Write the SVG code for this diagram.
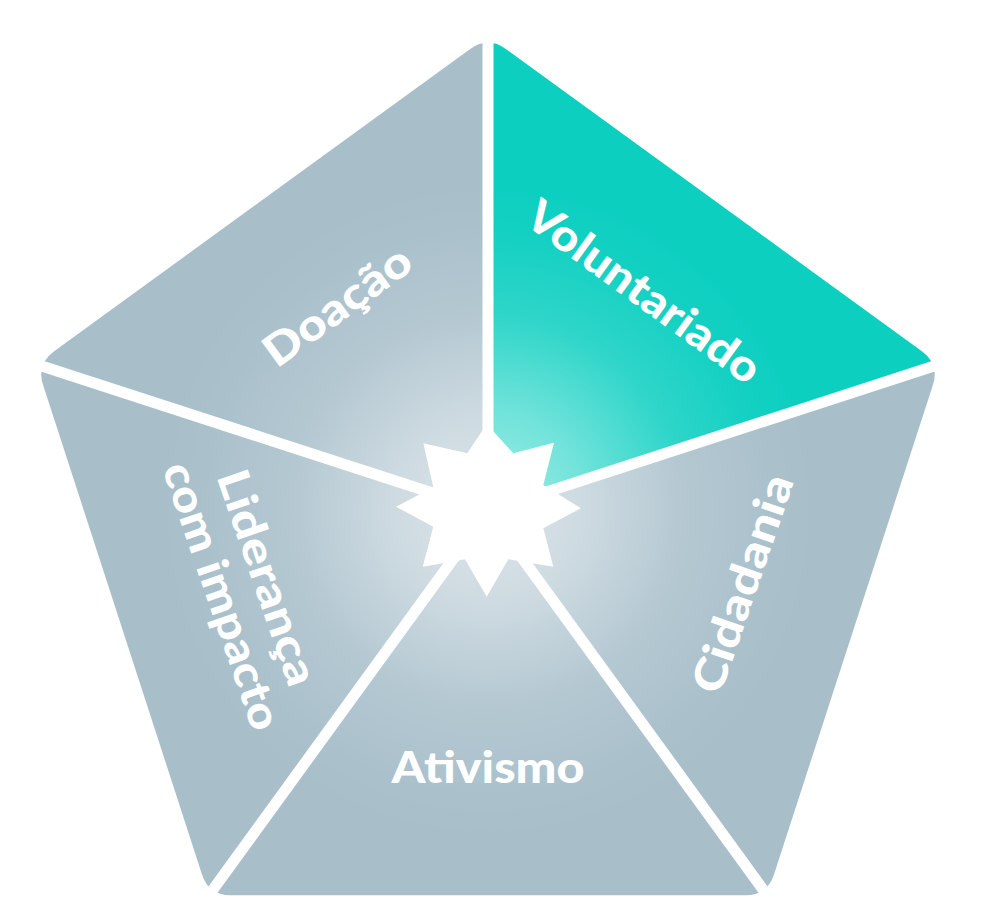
<svg xmlns="http://www.w3.org/2000/svg" width="994" height="921" viewBox="0 0 994 921">
<style>
.gray{fill:#a8bfca}
.teal{fill:#0ccfc0}
.lbl{font-family:Lato,"Open Sans","Liberation Sans",sans-serif;font-weight:900;font-size:44px;fill:#ffffff}
.sep{stroke:#ffffff;stroke-width:11;fill:none}
</style>
<defs>
<clipPath id="pent">
<path d="M470.2,48.9 Q488,36 505.8,48.9 L921.9,351.3 Q939.7,364.2 932.9,385.1 L774,874.4 Q767.2,895.3 745.2,895.3 L230.8,895.3 Q208.8,895.3 202,874.4 L43.1,385.1 Q36.3,364.2 54.1,351.3 Z"/>
</clipPath>
<radialGradient id="glow" cx="488" cy="511" r="330" gradientUnits="userSpaceOnUse">
<stop offset="0" stop-color="#ffffff" stop-opacity="0.62"/>
<stop offset="0.3" stop-color="#ffffff" stop-opacity="0.42"/>
<stop offset="0.6" stop-color="#ffffff" stop-opacity="0.14"/>
<stop offset="0.85" stop-color="#ffffff" stop-opacity="0.03"/>
<stop offset="1" stop-color="#ffffff" stop-opacity="0"/>
</radialGradient>
</defs>
<g clip-path="url(#pent)">
<g id="doacao-seg"><polygon class="gray" points="488,511 -31.5,342.2 488,-35"/></g>
<g id="voluntariado-seg"><polygon class="teal" points="488,511 488,-35 1007.5,342.2"/></g>
<g id="cidadania-seg"><polygon class="gray" points="488,511 1007.5,342.2 809.1,953"/></g>
<g id="ativismo-seg"><polygon class="gray" points="488,511 809.1,953 166.9,953"/></g>
<g id="lideranca-seg"><polygon class="gray" points="488,511 166.9,953 -31.5,342.2"/></g>
<rect x="0" y="0" width="994" height="921" fill="url(#glow)"/>
</g>
<g id="connectors">
<line class="sep" x1="488" y1="511" x2="488" y2="0"/>
<line class="sep" x1="488" y1="511" x2="1007.5" y2="342.2"/>
<line class="sep" x1="488" y1="511" x2="809.1" y2="953"/>
<line class="sep" x1="488" y1="511" x2="166.9" y2="953"/>
<line class="sep" x1="488" y1="511" x2="-31.5" y2="342.2"/>
</g>
<g id="star">
<polygon fill="#ffffff" points="486.7,424 513.3,453.3 554,442.7 543.3,485 581,508.3 543.3,528.3 553.3,566.7 508.3,559.3 486.7,596.7 465,559.3 422.7,566.7 433.3,526.7 396,506.7 433.3,487.3 423.3,443.3 467.3,453.3"/>
</g>
<g id="doacao"><text class="lbl" transform="translate(338,307) rotate(-36)" x="0" y="14" text-anchor="middle" textLength="172" lengthAdjust="spacingAndGlyphs">Doação</text></g>
<g id="voluntariado"><text class="lbl" transform="translate(643,293) rotate(36)" x="0" y="14" text-anchor="middle" textLength="278" lengthAdjust="spacingAndGlyphs">Voluntariado</text></g>
<g id="cidadania"><text class="lbl" transform="translate(744,584) rotate(-71)" x="0" y="14" text-anchor="middle" textLength="228" lengthAdjust="spacingAndGlyphs">Cidadania</text></g>
<g id="ativismo"><text class="lbl" x="488" y="783" text-anchor="middle" textLength="193" lengthAdjust="spacingAndGlyphs">Ativismo</text></g>
<g id="lideranca">
<text class="lbl" transform="translate(266,578) rotate(71)" x="0" y="14" text-anchor="middle" textLength="225" lengthAdjust="spacingAndGlyphs">Liderança</text>
<text class="lbl" transform="translate(219,597) rotate(71)" x="0" y="12" text-anchor="middle" textLength="280" lengthAdjust="spacingAndGlyphs">com impacto</text>
</g>
</svg>
